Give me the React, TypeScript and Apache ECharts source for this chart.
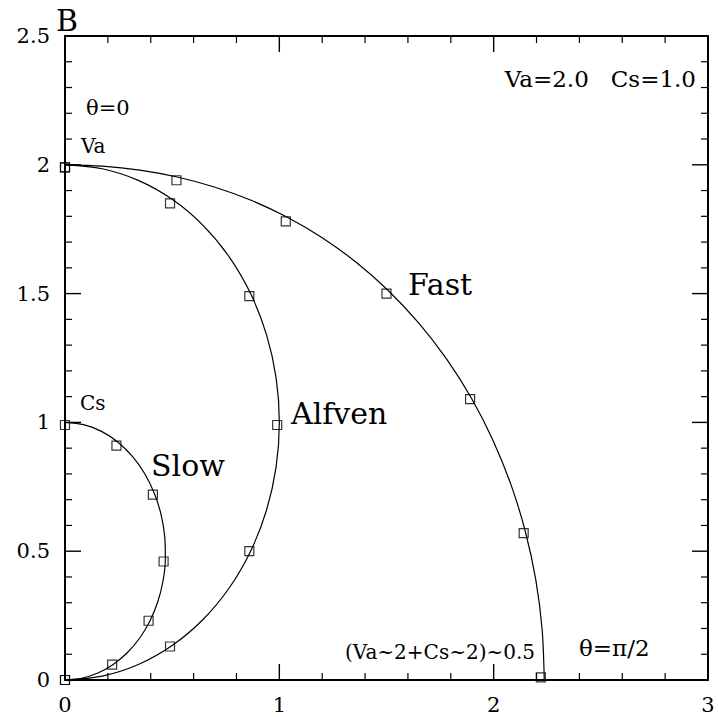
import React, { useEffect, useRef } from "react";
import * as echarts from "echarts";

// Phase-speed polar curves (x = v sin θ, y = v cos θ), θ from 0 to 90° in 5° steps
const fastCurve: [number, number][] = [
  [0, 2], [0.1745, 1.9949], [0.349, 1.9794], [0.5232, 1.9527], [0.6966, 1.914],
  [0.8684, 1.8622], [1.0372, 1.7964], [1.2016, 1.716], [1.3599, 1.6206], [1.5102, 1.5102],
  [1.6508, 1.3852], [1.7799, 1.2463], [1.8957, 1.0945], [1.9965, 0.931], [2.0811, 0.7574],
  [2.1481, 0.5756], [2.1968, 0.3874], [2.2262, 0.1948], [2.2361, 0],
];
const alfvenCurve: [number, number][] = [
  [0, 2], [0.1736, 1.9848], [0.342, 1.9397], [0.5, 1.866], [0.6428, 1.766],
  [0.766, 1.6428], [0.866, 1.5], [0.9397, 1.342], [0.9848, 1.1736], [1, 1],
  [0.9848, 0.8264], [0.9397, 0.658], [0.866, 0.5], [0.766, 0.3572], [0.6428, 0.234],
  [0.5, 0.134], [0.342, 0.0603], [0.1736, 0.0152], [0, 0],
];
const slowCurve: [number, number][] = [
  [0, 1], [0.0867, 0.9911], [0.1702, 0.9651], [0.2473, 0.9231], [0.3156, 0.867],
  [0.3728, 0.7995], [0.4175, 0.7231], [0.4486, 0.6406], [0.4655, 0.5548], [0.4682, 0.4682],
  [0.457, 0.3834], [0.4325, 0.3028], [0.3956, 0.2284], [0.3477, 0.1621], [0.2902, 0.1056],
  [0.2249, 0.0603], [0.1532, 0.027], [0.0778, 0.0068], [0, 0],
];

// Sampled points (squares), every 15°
const fastPoints: [number, number][] = [
  [0, 1.99], [0.52, 1.94], [1.03, 1.78], [1.5, 1.5], [1.89, 1.09], [2.14, 0.57], [2.22, 0.01],
];
const alfvenPoints: [number, number][] = [
  [0, 1.99], [0.49, 1.85], [0.86, 1.49], [0.99, 0.99], [0.86, 0.5], [0.49, 0.13], [0, 0],
];
const slowPoints: [number, number][] = [
  [0, 0.99], [0.24, 0.91], [0.41, 0.72], [0.46, 0.46], [0.39, 0.23], [0.22, 0.06], [0, 0],
];

// Axis ranges and tick values (ticks are mirrored on all four sides of the frame)
const xTicks = { min: 0, max: 3, interval: 1 };
const yTicks = { min: 0, max: 2.5, interval: 0.5 };
const xMajorTicks = [0, 1, 2, 3];
const xMinorTicks = [0.2, 0.4, 0.6, 0.8, 1.2, 1.4, 1.6, 1.8, 2.2, 2.4, 2.6, 2.8];
const yMajorTicks = [0, 0.5, 1, 1.5, 2, 2.5];
const yMinorTicks = [
  0.1, 0.2, 0.3, 0.4, 0.6, 0.7, 0.8, 0.9, 1.1, 1.2, 1.3, 1.4,
  1.6, 1.7, 1.8, 1.9, 2.1, 2.2, 2.3, 2.4,
];

const W = 718;
const H = 717;
const GRID = { left: 65, right: 10, top: 36, bottom: 37 };
const PLOT_W = W - GRID.left - GRID.right;
const PLOT_H = H - GRID.top - GRID.bottom;
const FONT = "DejaVu Serif";

function axis(position: string, labels: boolean, margin: number, range: { min: number; max: number; interval: number }) {
  return {
    type: "value",
    position,
    min: range.min,
    max: range.max,
    interval: range.interval,
    axisLine: { show: true, onZero: false, lineStyle: { color: "#000", width: 2 } },
    axisTick: { show: false },
    minorTick: { show: false },
    splitLine: { show: false },
    axisLabel: {
      show: labels,
      color: "#000",
      fontFamily: FONT,
      fontSize: 21,
      margin,
    },
  };
}

// Inward tick marks on both opposite frame edges, drawn as short line segments
// (tick length given in pixels, converted to axis units of the perpendicular axis)
function tickSegments(dir: "x" | "y", values: number[], lenPx: number, width: number) {
  const out: any[] = [];
  const style = { color: "#000", width };
  values.forEach((v) => {
    let segs: [number, number][][];
    if (dir === "x") {
      const d = (lenPx / PLOT_H) * (yTicks.max - yTicks.min);
      segs = [
        [[v, yTicks.min], [v, yTicks.min + d]],
        [[v, yTicks.max], [v, yTicks.max - d]],
      ];
    } else {
      const d = (lenPx / PLOT_W) * (xTicks.max - xTicks.min);
      segs = [
        [[xTicks.min, v], [xTicks.min + d, v]],
        [[xTicks.max, v], [xTicks.max - d, v]],
      ];
    }
    segs.forEach((data) => {
      out.push({
        type: "line",
        data,
        silent: true,
        symbol: "none",
        showSymbol: false,
        clip: false,
        lineStyle: style,
        z: 5,
      });
    });
  });
  return out;
}

function curve(name: string, data: [number, number][]) {
  return {
    name,
    type: "line",
    data,
    showSymbol: false,
    symbol: "none",
    smooth: 0.3,
    lineStyle: { color: "#000", width: 1.2 },
  };
}

function points(name: string, data: [number, number][]) {
  return {
    name,
    type: "scatter",
    data,
    symbol: "rect",
    symbolSize: 9,
    itemStyle: { color: "rgba(0,0,0,0)", borderColor: "#000", borderWidth: 1.2 },
  };
}

// Text annotation placed by its left (or right) edge and vertical middle
function note(text: string, x: number, y: number, fontSize: number, alignRight = false) {
  const pos: any = alignRight ? { right: W - x } : { left: x };
  return {
    text,
    ...pos,
    top: y - fontSize / 2,
    padding: 0,
    itemGap: 0,
    textStyle: {
      color: "#000",
      fontFamily: FONT,
      fontWeight: "normal",
      fontSize,
      lineHeight: fontSize,
    },
  };
}

export default function App() {
  const ref = useRef<HTMLDivElement>(null);

  useEffect(() => {
    if (!ref.current) return;
    const chart = echarts.init(ref.current, null, { renderer: "svg" });
    chart.setOption({
      animation: false,
      title: [
        note("B", 56, 20, 30),
        note("θ=0", 86, 108, 21),
        note("Va", 81, 146, 20),
        note("Va=2.0   Cs=1.0", 696, 79, 23, true),
        note("Fast", 408, 284, 30),
        note("Alfven", 291, 413, 30),
        note("Slow", 151, 465, 30),
        note("Cs", 80, 403, 20),
        note("(Va~2+Cs~2)~0.5", 535, 652, 20, true),
        note("θ=π/2", 579, 648, 23),
      ],
      grid: GRID,
      xAxis: [axis("bottom", true, 14, xTicks), axis("top", false, 14, xTicks)],
      yAxis: [axis("left", true, 15, yTicks), axis("right", false, 15, yTicks)],
      series: [
        ...tickSegments("x", xMajorTicks, 16, 1.4),
        ...tickSegments("x", xMinorTicks, 7, 1.2),
        ...tickSegments("y", yMajorTicks, 16, 1.4),
        ...tickSegments("y", yMinorTicks, 7, 1.2),
        curve("Fast", fastCurve),
        curve("Alfven", alfvenCurve),
        curve("Slow", slowCurve),
        points("Fast pts", fastPoints),
        points("Alfven pts", alfvenPoints),
        points("Slow pts", slowPoints),
      ],
    });
    return () => chart.dispose();
  }, []);

  return (
    <div
      ref={ref}
      style={{ position: "fixed", left: 0, top: 0, width: W, height: H, background: "#fff" }}
    />
  );
}
